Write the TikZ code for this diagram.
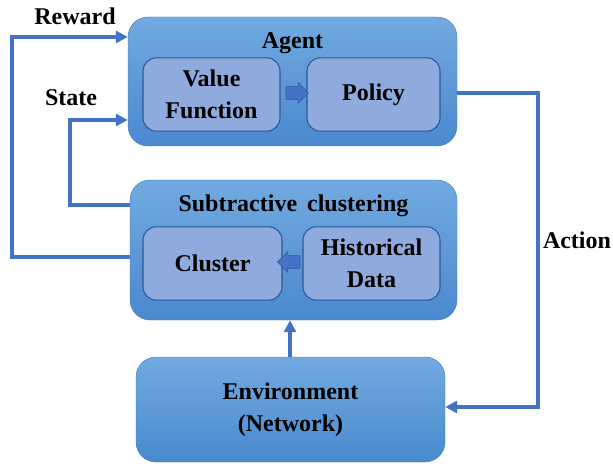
\documentclass[tikz,border=0pt]{standalone}
\usepackage{fontspec}
\setmainfont{Liberation Serif}
\usetikzlibrary{arrows.meta, positioning, shapes.arrows}
\definecolor{lineblue}{HTML}{4472C4}
\definecolor{outtop}{HTML}{72AAE0}
\definecolor{outbot}{HTML}{4A89CF}
\definecolor{innerfill}{HTML}{8FAADC}
\definecolor{innerdraw}{HTML}{2F5597}

\begin{document}
\begin{tikzpicture}[
    x=0.75pt, y=-0.75pt,
    every node/.style={font=\bfseries\fontsize{18}{24}\selectfont, align=center, inner sep=0pt},
    outer/.style={rounded corners=15pt, top color=outtop, bottom color=outbot, draw=outbot!90!black, line width=0.3pt},
    inner/.style={rounded corners=10pt, fill=innerfill, draw=innerdraw, line width=0.8pt, minimum height=55pt},
    flow/.style={single arrow, fill=lineblue, draw=innerdraw, line width=0.4pt, inner sep=4.5pt, minimum height=17pt, single arrow head extend=3pt},
    arrow/.style={-{Triangle[length=9pt, width=9pt]}, draw=lineblue, line width=2.7pt}
]
    \useasboundingbox (0,0) rectangle (613,466);

    % Boxes
    \node (agent) [outer, minimum width=246.75pt, minimum height=96.75pt] at (292.5,81.5) {};
    \node (agenttitle) at (292.5,43) {Agent};
    \node (value) [inner, minimum width=102.75pt] at (211.5,94.5) {Value\\Function};
    \node (policy) [inner, minimum width=99.75pt] at (373.5,94.5) {Policy};
    \node (vparrow) [flow] at (294,93) {};

    \node (subtr) [outer, minimum width=245.25pt, minimum height=105pt] at (293.5,250) {};
    \node (subtrtitle) at (293.5,206) {Subtractive\, clustering};
    \node (cluster) [inner, minimum width=104.25pt] at (212.5,263.5) {Cluster};
    \node (hist) [inner, minimum width=102.75pt] at (371.5,263.5) {Historical\\Data};
    \node (hcarrow) [flow, shape border rotate=180] at (292,262) {};

    \node (env) [outer, minimum width=231.75pt, minimum height=78.75pt] at (290.5,409.5) {Environment\\(Network)};

    % Labels
    \node (reward) at (75,16) {Reward};
    \node (state) at (71,98) {State};
    \node (action) at (577,240) {Action};

    % Edges
    \draw [arrow] (subtr.west |- 0,257) -| (12,37) -- (agent.west |- 0,37);
    \draw [arrow] (subtr.west |- 0,205) -| (70,120) -- (agent.west |- 0,120);
    \draw [arrow] (agent.east |- 0,93) -| (538,407) -- (env.east |- 0,407);
    \draw [arrow] (env.north -| 290,0) -- (subtr.south -| 290,0);
\end{tikzpicture}
\end{document}
